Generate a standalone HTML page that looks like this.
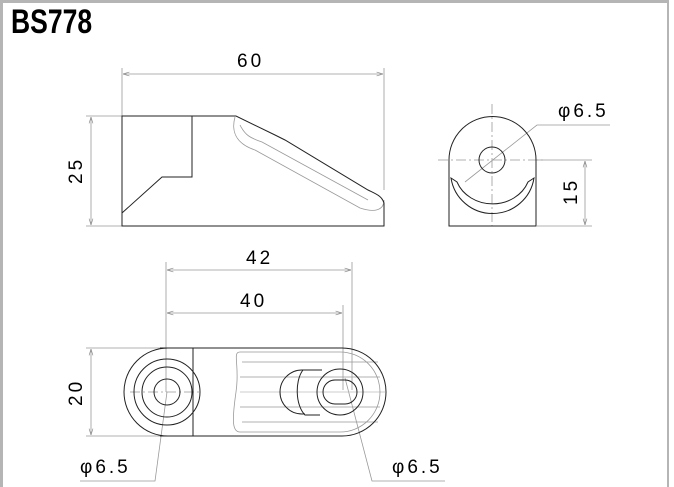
<!DOCTYPE html>
<html><head><meta charset="utf-8"><style>
html,body{margin:0;padding:0;background:#fff}
body{width:674px;height:487px;overflow:hidden;position:relative}
.frame{position:absolute;left:0;top:0;width:669px;height:487px;border-top:3px solid #b5b5b5;border-left:3px solid #b5b5b5;border-right:2px solid #b5b5b5;box-sizing:border-box}
.title{position:absolute;left:11px;top:3px;font:bold 34px "Liberation Sans Narrow","Liberation Sans",sans-serif;transform:scaleX(0.78);transform-origin:left top;color:#000}
svg{position:absolute;left:0;top:0}
text{font-family:"Liberation Sans",sans-serif;font-size:19px;fill:#000;letter-spacing:3px}
</style></head><body>
<div class="frame"></div>
<div class="title">BS778</div>
<svg width="674" height="487" viewBox="0 0 674 487">
<defs><marker id="a" viewBox="0 0 10 10" refX="10" refY="5" markerWidth="8" markerHeight="8" orient="auto-start-reverse"><path d="M0,2 L10,5 L0,8" fill="none" stroke="#888" stroke-width="1"/></marker></defs>
<g stroke="#999" stroke-width="0.8" fill="none">
<line x1="122" y1="68" x2="122" y2="116"/><line x1="384" y1="68" x2="384" y2="190"/>
<line x1="123" y1="74" x2="383" y2="74" marker-start="url(#a)" marker-end="url(#a)"/>
<line x1="86" y1="116" x2="122" y2="116"/><line x1="86" y1="226" x2="122" y2="226"/>
<line x1="91" y1="117" x2="91" y2="225" marker-start="url(#a)" marker-end="url(#a)"/>
<line x1="537" y1="160" x2="592" y2="160"/><line x1="537" y1="226" x2="592" y2="226"/>
<line x1="585" y1="161" x2="585" y2="225" marker-start="url(#a)" marker-end="url(#a)"/>
<polyline points="610,125 537,125 465,182"/>
<line x1="166" y1="262" x2="166" y2="392"/><line x1="352" y1="262" x2="352" y2="390"/><line x1="343" y1="305" x2="343" y2="390"/>
<line x1="167" y1="270" x2="351" y2="270" marker-start="url(#a)" marker-end="url(#a)"/>
<line x1="167" y1="313" x2="342" y2="313" marker-start="url(#a)" marker-end="url(#a)"/>
<line x1="86" y1="348" x2="167" y2="348"/><line x1="86" y1="436" x2="167" y2="436"/>
<line x1="91" y1="349" x2="91" y2="435" marker-start="url(#a)" marker-end="url(#a)"/>
<polyline points="80,481 155,481 167,392"/>
<polyline points="445,481 372,481 345,378"/>
<line x1="438" y1="160" x2="545" y2="160" stroke-dasharray="10,3,2,3"/>
<line x1="492" y1="104" x2="492" y2="226" stroke-dasharray="10,3,2,3"/>
<line x1="130" y1="392" x2="200" y2="392" stroke-dasharray="10,3,2,3"/>
<line x1="240" y1="392" x2="385" y2="392" stroke="#bbb"/>
<path d="M235,117 C230,135 240,145 255,150 L360,208 C375,213 384,210 384,200"/>
<path d="M240,125 C245,135 250,138 262,142 L368,200"/>
<path d="M240,352 L340,352 A40,40 0 0 1 380,392 A40,40 0 0 1 340,432 L240,432 C232,432 232,420 236,392 C240,365 232,352 240,352Z"/>
<line x1="242" y1="362" x2="378" y2="362"/><line x1="240" y1="377" x2="380" y2="377"/><line x1="240" y1="407" x2="380" y2="407"/><line x1="242" y1="422" x2="378" y2="422"/>
</g>
<g stroke="#222" stroke-width="1" fill="none">
<path d="M122,226 L384,226 L384,203 C382,196 376,194 368,190 L285,140 L275,135 L236,116 L122,116 Z"/>
<path d="M192,116 L192,177 L162,177 L122,213"/>
<path d="M449,226 L449,160 A43.5,43.5 0 0 1 536,160 L536,226 Z"/>
<circle cx="492" cy="160" r="13"/>
<path d="M451,178 A42,42 0 0 0 534,178 L528,182 A38,34 0 0 1 457,182 Z"/>
<path d="M168,348 L342,348 A44,44 0 0 1 342,436 L168,436 A44,44 0 0 1 168,348 Z"/>
<path d="M160,348 L193,348 L193,436 L160,436"/>
<circle cx="167" cy="392" r="13"/><circle cx="167" cy="392" r="25"/><circle cx="167" cy="392" r="33"/>
<path d="M345,380 L335,380 A12,12 0 0 0 335,404 L345,404 A12,12 0 0 0 345,380 Z"/>
<circle cx="340" cy="392" r="23"/>
<path d="M305,370 L302,370 A22,22 0 0 0 302,414 L305,414"/>
<path d="M303,370 C295,380 295,405 305,415 L320,415"/>
<path d="M303,370 L322,370"/>
</g>
<text x="237" y="67">60</text>
<text x="246" y="264">42</text>
<text x="240" y="307">40</text>
<text transform="translate(82,184) rotate(-90)">25</text>
<text transform="translate(577,205) rotate(-90)">15</text>
<text transform="translate(82,406) rotate(-90)">20</text>
<text x="558" y="117">φ6.5</text>
<text x="80" y="473">φ6.5</text>
<text x="392" y="473">φ6.5</text>
</svg>
</body></html>
